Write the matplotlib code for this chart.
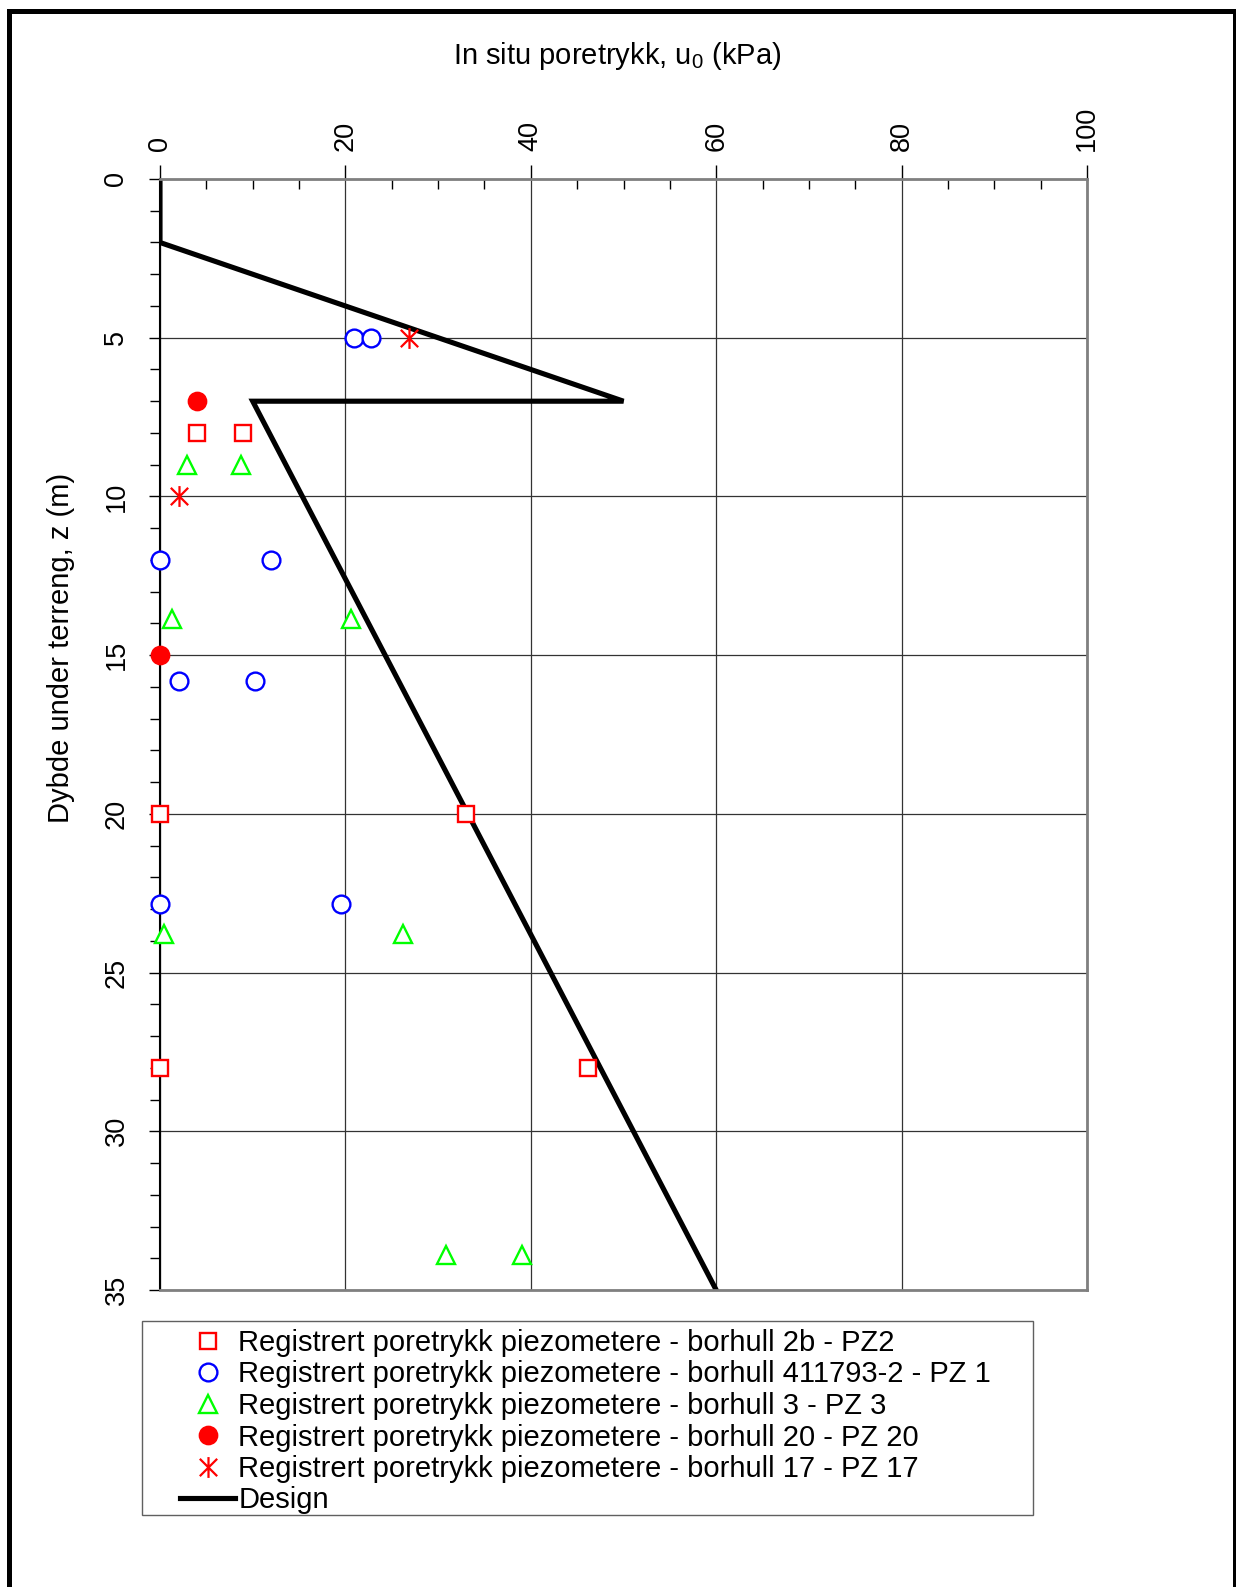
import matplotlib
matplotlib.use("Agg")
import matplotlib.pyplot as plt
from matplotlib.patches import Rectangle
from matplotlib.path import Path
from matplotlib.lines import Line2D
from matplotlib.ticker import MultipleLocator

plt.rcParams['font.family'] = ['Liberation Sans', 'DejaVu Sans']
plt.rcParams['mathtext.fontset'] = 'custom'
plt.rcParams['mathtext.rm'] = 'Liberation Sans'
plt.rcParams['mathtext.it'] = 'Liberation Sans'

# ---- data ----
pz2_u = [4, 9, 0, 33, 0, 46.2]
pz2_z = [8, 8, 20, 20, 28, 28]

pz1_u = [20.9, 22.8, 0, 12, 2, 10.2, 0, 19.5]
pz1_z = [5, 5, 12, 12, 15.8, 15.8, 22.85, 22.85]

pz3_u = [2.9, 8.7, 1.3, 20.6, 0.4, 26.2, 30.9, 39.1]
pz3_z = [9, 9, 13.85, 13.85, 23.8, 23.8, 33.9, 33.9]

pz20_u = [4, 0]
pz20_z = [7, 15]

pz17_u = [26.9, 2]
pz17_z = [5, 10]

design_u = [0, 0, 50, 10, 60]
design_z = [0, 2, 7, 7, 35]

labels = [
    "Registrert poretrykk piezometere - borhull 2b - PZ2",
    "Registrert poretrykk piezometere - borhull 411793-2 - PZ 1",
    "Registrert poretrykk piezometere - borhull 3 - PZ 3",
    "Registrert poretrykk piezometere - borhull 20 - PZ 20",
    "Registrert poretrykk piezometere - borhull 17 - PZ 17",
    "Design",
]
x_ticks = [0, 20, 40, 60, 80, 100]
y_ticks = [0, 5, 10, 15, 20, 25, 30, 35]

W, H = 1236, 1587
fig = plt.figure(figsize=(W / 100, H / 100), dpi=100)
ax = fig.add_axes([160 / W, 1 - 1290 / H, 927 / W, 1111 / H])

# asterisk marker: X plus vertical bar
star = Path([(-0.5, -0.5), (0.5, 0.5), (-0.5, 0.5), (0.5, -0.5), (0, -0.6), (0, 0.6)],
            [Path.MOVETO, Path.LINETO, Path.MOVETO, Path.LINETO, Path.MOVETO, Path.LINETO])

red, blue, green = '#FF0000', '#0000FF', '#00FF00'

ax.plot(design_u, design_z, color='black', lw=3.7, zorder=2, solid_joinstyle='miter')
h1, = ax.plot(pz2_u, pz2_z, ls='none', marker='s', ms=12, mfc='white', mec=red, mew=1.7,
              zorder=3, clip_on=False)
h2, = ax.plot(pz1_u, pz1_z, ls='none', marker='o', ms=12.8, mfc='white', mec=blue, mew=1.7,
              zorder=3, clip_on=False)
h3, = ax.plot(pz3_u, pz3_z, ls='none', marker='^', ms=12.8, mfc='white', mec=green, mew=1.7,
              zorder=3, clip_on=False)
h4, = ax.plot(pz20_u, pz20_z, ls='none', marker='o', ms=13, mfc=red, mec=red, mew=1.2,
              zorder=3, clip_on=False)
h5, = ax.plot(pz17_u, pz17_z, ls='none', marker=star, ms=15, mfc='none', mec=red, mew=1.6,
              zorder=3, clip_on=False)
h6 = Line2D([], [], color='black', lw=3.7)

ax.set_xlim(0, 100)
ax.set_ylim(35, 0)
ax.xaxis.tick_top()
ax.set_xticks(x_ticks)
ax.set_yticks(y_ticks)
ax.xaxis.set_minor_locator(MultipleLocator(5))
ax.yaxis.set_minor_locator(MultipleLocator(1))
ax.tick_params(axis='x', which='major', direction='out', length=10, width=1, pad=10,
               labelsize=19.5, labelrotation=90, top=True, bottom=False, colors='black')
ax.tick_params(axis='x', which='minor', direction='in', length=7, width=1, top=True, bottom=False)
ax.tick_params(axis='y', which='major', direction='out', length=8, width=1, pad=14,
               labelsize=19.5, labelrotation=90)
ax.tick_params(axis='y', which='minor', direction='out', length=7, width=1)
for lab in ax.get_yticklabels():
    lab.set_va('center')
ax.grid(which='major', color='#333333', lw=0.9, zorder=1)
ax.set_axisbelow(True)
for s in ['top', 'right', 'bottom']:
    ax.spines[s].set_color('#808080')
    ax.spines[s].set_linewidth(2)
ax.spines['left'].set_color('black')
ax.spines['left'].set_linewidth(1.5)

fig.text(617 / W, 1 - 56 / H, r'In situ poretrykk, u$_0$ (kPa)', ha='center', va='center', fontsize=21)
fig.text(61 / W, 1 - 648 / H, 'Dybde under terreng, z (m)', ha='center', va='center',
         rotation=90, fontsize=21)

# legend
leg = fig.legend([h1, h2, h3, h4, h5, h6], labels, loc='upper left',
                 bbox_to_anchor=(180 / W, 1 - 1329 / H), frameon=False, fontsize=21,
                 handlelength=1.9, handletextpad=0.1, labelspacing=0.12, borderpad=0,
                 borderaxespad=0, numpoints=1)
fig.add_artist(Rectangle((142 / W, 1 - 1515 / H), (1033 - 142) / W, (1515 - 1321) / H,
                         transform=fig.transFigure, fill=False, edgecolor='#606060', lw=1))

# outer border
fig.add_artist(Rectangle((8.5 / W, 1 - 1600 / H), (1234.5 - 8.5) / W, (1600 - 10.5) / H,
                         transform=fig.transFigure, fill=False, edgecolor='black', lw=3.6,
                         clip_on=False))

fig.savefig('out.png', dpi=100)
